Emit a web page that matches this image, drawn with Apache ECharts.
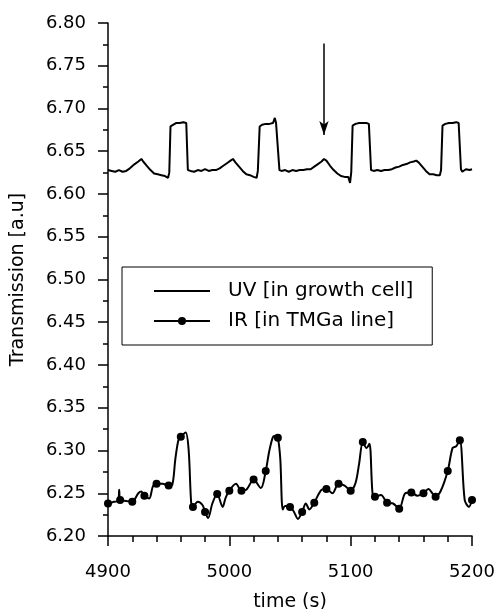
<!DOCTYPE html>
<html>
<head>
<meta charset="utf-8">
<script src="https://cdn.jsdelivr.net/npm/echarts@6/dist/echarts.min.js"></script>
<style>
  html, body { margin: 0; padding: 0; background: #fff; }
  #chart { width: 497px; height: 609px; }
</style>
</head>
<body>
<div id="chart"></div>
<script>
// UV transmission (growth cell), time in s
var uvTime = [4900, 4903, 4906, 4909, 4912, 4915, 4918, 4922, 4925, 4927.5, 4929, 4932, 4935, 4938, 4941, 4944, 4947, 4949.5, 4950.5, 4951.5,
    4953, 4956, 4959, 4962, 4964.5, 4965.8, 4968, 4971, 4974, 4977, 4980, 4983, 4986, 4989, 4992, 4995, 4998, 5001, 5003, 5005,
    5008, 5011, 5014, 5017, 5020, 5022.5, 5023.5, 5025, 5027, 5030, 5033, 5036, 5037.5, 5038.5, 5040, 5041.3, 5043, 5046, 5049, 5052,
    5055, 5058, 5061, 5064, 5067, 5070, 5073, 5076, 5078, 5080, 5083, 5086, 5089, 5092, 5095, 5098, 5099.5, 5100.5, 5101.6, 5104,
    5107, 5110, 5113, 5115, 5116.8, 5119, 5122, 5125, 5128, 5131, 5134, 5137, 5140, 5143, 5146, 5149, 5152, 5154, 5156, 5159,
    5162, 5165, 5168, 5171, 5173.5, 5174.5, 5175.7, 5178, 5181, 5184, 5187, 5189, 5190.9, 5192, 5195, 5198, 5200];
var uvValue = [6.628, 6.627, 6.626, 6.628, 6.626, 6.627, 6.630, 6.635, 6.638, 6.641, 6.638, 6.633, 6.628, 6.624, 6.623, 6.622, 6.621, 6.619, 6.625, 6.679,
    6.681, 6.683, 6.683, 6.684, 6.683, 6.628, 6.627, 6.626, 6.628, 6.627, 6.629, 6.627, 6.628, 6.628, 6.630, 6.633, 6.636, 6.639, 6.641, 6.637,
    6.632, 6.627, 6.623, 6.622, 6.620, 6.619, 6.627, 6.679, 6.681, 6.682, 6.682, 6.683, 6.689, 6.683, 6.682, 6.628, 6.627, 6.628, 6.626, 6.628,
    6.627, 6.628, 6.628, 6.629, 6.629, 6.632, 6.635, 6.638, 6.641, 6.639, 6.633, 6.628, 6.624, 6.621, 6.620, 6.620, 6.613, 6.626, 6.680, 6.682,
    6.683, 6.683, 6.683, 6.682, 6.628, 6.627, 6.628, 6.627, 6.628, 6.628, 6.629, 6.631, 6.632, 6.634, 6.635, 6.637, 6.638, 6.639, 6.637, 6.632,
    6.627, 6.623, 6.623, 6.622, 6.622, 6.628, 6.680, 6.682, 6.683, 6.683, 6.684, 6.683, 6.629, 6.626, 6.629, 6.628, 6.629];

// IR transmission (TMGa line): sampled points with markers every 10 s
var irMarkTime = [4900, 4910, 4920, 4930, 4940, 4950, 4960, 4970, 4980, 4990, 5000, 5010, 5020, 5030, 5040, 5050,
    5060, 5070, 5080, 5090, 5100, 5110, 5120, 5130, 5140, 5150, 5160, 5170, 5180, 5190, 5200];
var irMarkValue = [6.238, 6.242, 6.240, 6.247, 6.261, 6.259, 6.316, 6.234, 6.228, 6.249, 6.253, 6.253, 6.266, 6.276, 6.315, 6.234,
    6.228, 6.239, 6.255, 6.261, 6.253, 6.310, 6.246, 6.239, 6.232, 6.251, 6.250, 6.246, 6.276, 6.312, 6.242];
// IR trace between the markers
var irLineTime = [4905, 4908.5, 4909.2, 4915, 4925, 4927.5, 4934, 4937, 4945, 4953, 4955.5, 4958, 4964, 4966.5, 4968.5,
    4974, 4978, 4982.5, 4986, 4994.5, 4997, 5005.5, 5014, 5026, 5033, 5036, 5038, 5042, 5044, 5046, 5053, 5056.5,
    5063, 5066, 5076, 5085, 5095, 5104, 5107, 5113, 5115.5, 5118, 5125, 5135, 5145, 5155, 5164, 5174, 5184, 5187, 5194, 5197.5];
var irLineValue = [6.240, 6.241, 6.254, 6.241, 6.250, 6.252, 6.244, 6.258, 6.261, 6.260, 6.290, 6.312, 6.321, 6.300, 6.240,
    6.240, 6.236, 6.221, 6.238, 6.234, 6.245, 6.261, 6.254, 6.256, 6.300, 6.316, 6.317, 6.290, 6.231, 6.235, 6.229, 6.220,
    6.238, 6.231, 6.254, 6.250, 6.259, 6.262, 6.285, 6.303, 6.308, 6.250, 6.248, 6.238, 6.250, 6.247, 6.255, 6.252, 6.303, 6.305, 6.242, 6.234];

// arrow marking the UV feature
var arrowTime = 5078;
var arrowFrom = 6.776;
var arrowTo = 6.669;

var xTicks = [4900, 5000, 5100, 5200];
var seriesNames = ['UV [in growth cell]', 'IR [in TMGa line]'];

var font = 'DejaVu Sans';

var uvData = [];
for (var i = 0; i < uvTime.length; i++) {
    uvData.push([uvTime[i], uvValue[i]]);
}

var irData = [];
for (var i = 0; i < irMarkTime.length; i++) {
    irData.push({ value: [irMarkTime[i], irMarkValue[i]] });
}
for (var i = 0; i < irLineTime.length; i++) {
    irData.push({ value: [irLineTime[i], irLineValue[i]], symbol: 'none' });
}
irData.sort(function (a, b) { return a.value[0] - b.value[0]; });

var chart = echarts.init(document.getElementById('chart'));

var option = {
    backgroundColor: '#fff',
    animation: false,
    grid: { left: 108, top: 23, right: 25, bottom: 73, containLabel: false, outerBoundsMode: 'none' },
    legend: {
        orient: 'vertical',
        left: 122,
        top: 267,
        data: [
            { name: seriesNames[0], itemStyle: { opacity: 0 } },
            { name: seriesNames[1] }
        ],
        itemWidth: 56,
        itemHeight: 10,
        itemGap: 10,
        padding: [14, 19, 14, 31],
        borderColor: '#000',
        borderWidth: 1,
        textStyle: { fontFamily: font, fontSize: 20, color: '#000', lineHeight: 20, padding: [0, 0, 0, 13] }
    },
    xAxis: {
        type: 'value',
        min: xTicks[0],
        max: xTicks[xTicks.length - 1],
        interval: 100,
        name: 'time (s)',
        nameLocation: 'middle',
        nameGap: 57,
        nameTextStyle: { fontFamily: font, fontSize: 19, color: '#000' },
        axisLine: { lineStyle: { color: '#000', width: 1.5 } },
        axisTick: { length: 10, lineStyle: { color: '#000', width: 1.5 } },
        minorTick: { show: true, splitNumber: 5, length: 6, lineStyle: { color: '#000', width: 1.5 } },
        axisLabel: {
            fontFamily: font, fontSize: 18, color: '#000', margin: 27,
            formatter: function (v) { return String(v); }
        },
        splitLine: { show: false }
    },
    yAxis: {
        type: 'value',
        min: 6.2,
        max: 6.8,
        interval: 0.05,
        name: 'Transmission [a.u]',
        nameLocation: 'middle',
        nameGap: 80,
        nameTextStyle: { fontFamily: font, fontSize: 19, color: '#000' },
        axisLine: { show: true, lineStyle: { color: '#000', width: 1.5 } },
        axisTick: { show: true, length: 10, lineStyle: { color: '#000', width: 1.5 } },
        minorTick: { show: true, splitNumber: 2, length: 5, lineStyle: { color: '#000', width: 1.5 } },
        axisLabel: {
            fontFamily: font, fontSize: 18, color: '#000', margin: 22,
            formatter: function (v) { return v.toFixed(2); }
        },
        splitLine: { show: false }
    },
    series: [
        {
            name: seriesNames[0],
            type: 'line',
            data: uvData,
            symbol: 'none',
            color: '#000',
            lineStyle: { color: '#000', width: 2 },
            markLine: {
                silent: true,
                label: { show: false },
                lineStyle: { color: '#000', width: 1.5, type: 'solid' },
                data: [[
                    { coord: [arrowTime, arrowFrom], symbol: 'none' },
                    { coord: [arrowTime, arrowTo], symbol: 'arrow', symbolSize: [7, 14] }
                ]]
            }
        },
        {
            name: seriesNames[1],
            type: 'line',
            data: irData,
            smooth: 0.3,
            symbol: 'circle',
            symbolSize: 8,
            showAllSymbol: true,
            color: '#000',
            itemStyle: { color: '#000' },
            lineStyle: { color: '#000', width: 2 }
        }
    ]
};

chart.setOption(option);
window.addEventListener('resize', function () {
    chart.resize();
});
</script>
</body>
</html>
